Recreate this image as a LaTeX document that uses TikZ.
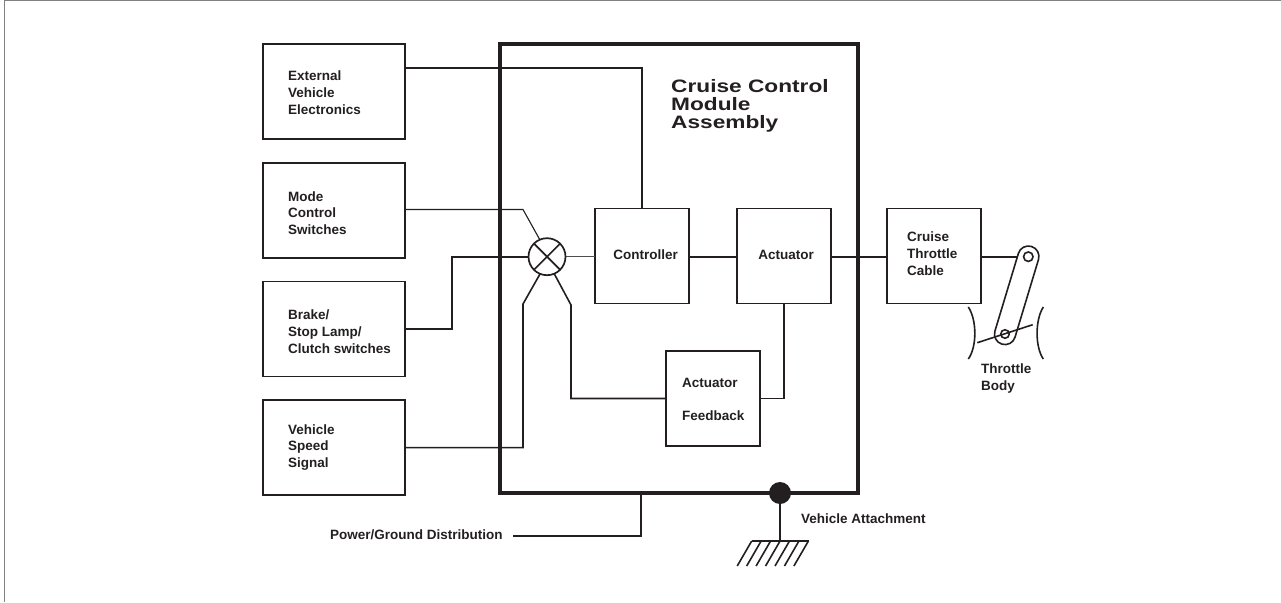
\documentclass[tikz,border=0pt]{standalone}
\usepackage{fontspec}
\setmainfont{Liberation Sans}
\newfontfamily\widefont[FakeStretch=1.26]{Liberation Sans}
\definecolor{ink}{HTML}{231F20}
\usetikzlibrary{positioning}
\begin{document}
\begin{tikzpicture}[
  x=1pt, y=-1pt,
  node distance=23.7pt and 48pt,
  color=ink,
  frm/.style={draw, line width=1.6pt, minimum width=142pt, minimum height=95pt, inner sep=0pt, outer sep=0pt},
  box/.style={draw, line width=1.6pt, minimum width=94pt, minimum height=95pt, inner sep=0pt, outer sep=0pt},
  lbl/.style={align=left, font=\fontsize{13.5}{16.7}\selectfont\bfseries, inner sep=0pt},
  wire/.style={line width=1.6pt},
  thin wire/.style={line width=1.1pt}
]
  \useasboundingbox (0,0) rectangle (1281,602);
  \draw[line width=1pt, gray] (4,602) -- (4,1) -- (1281,1);

  \node[draw, line width=4pt, minimum width=358pt, minimum height=448pt, inner sep=0pt, outer sep=0pt] (module) at (679,268.5) {};
  \node[frm] (ext) at (334,91.5) {};
  \node[frm, below=of ext] (mode) {};
  \node[frm, below=of mode] (brake) {};
  \node[frm, below=of brake] (speed) {};
  \node[box] (ctrl) at (642,256) {};
  \node[box, right=48pt of ctrl] (act) {};
  \node[box] (fback) at (713,398.5) {};
  \node[box, right=56pt of act] (cable) {};
  \node[draw, circle, line width=1.7pt, minimum size=37pt, inner sep=0pt, outer sep=0pt] (sum) at (547,256.7) {};
  \draw[line width=1.7pt] (sum.north west) -- (sum.south east) (sum.north east) -- (sum.south west);

  \node[lbl, anchor=west] (exttxt) at (288,92.5) {External\\Vehicle\\Electronics};
  \node[lbl, anchor=west] (modetxt) at (288,213) {Mode\\Control\\Switches};
  \node[lbl, anchor=west] (braketxt) at (288,331.5) {Brake/\\Stop Lamp/\\Clutch switches};
  \node[lbl, anchor=west] (speedtxt) at (288,447.5) {Vehicle\\Speed\\Signal};
  \node[lbl] (ctrltxt) at (645.6,255) {Controller};
  \node[lbl] (acttxt) at (786,255) {Actuator};
  \node[lbl, anchor=west] (fbacktxt) at (682,399.5) {Actuator\\[16pt]Feedback};
  \node[lbl, anchor=west] (cabletxt) at (907,253.5) {Cruise\\Throttle\\Cable};
  \node[lbl, anchor=west, font=\fontsize{18}{18}\selectfont\widefont\bfseries] (title) at (671,105.5) {Cruise Control\\Module\\Assembly};
  \node[lbl, anchor=west] (body) at (981,378.5) {Throttle\\Body};
  \node[lbl, anchor=west] (power) at (330,535) {Power/Ground Distribution};
  \node[lbl, anchor=west] (attach) at (801,519) {Vehicle Attachment};

  \draw[wire] (ext.east |- 0,68) -| (ctrl.north);
  \draw[thin wire] (mode.east |- 0,209.5) -- (523,209.5) -- (sum.113);
  \draw[wire] (brake.east) -- (452,328.9) |- (sum.west);
  \draw[wire] (speed.east) -- (523,447.6) -- (523,304) -- (sum.248);
  \draw[thin wire, ink!80] (sum.east) -- (ctrl.west |- sum.east);
  \draw[wire] (ctrl.east |- sum.east) -- (act.west |- sum.east);
  \draw[wire] (sum.293) -- (571,305) |- (fback.west);
  \draw[wire] (fback.east) -| (act.south);

  % throttle linkage
  \coordinate (pivtop) at (1028.3,256.7);
  \coordinate (pivbot) at (1005,334);
  \draw[wire] (act.east |- sum.east) -- (cable.west |- sum.east);
  \draw[wire] (cable.east |- pivtop) -- (pivtop);
  \node[draw, fill=white, line width=1.6pt, rotate=73.2, minimum width=102pt, minimum height=21pt, rounded corners=10.4pt, inner sep=0pt, outer sep=0pt] (lever) at (1016.7,295.3) {};
  \node[draw, fill=white, circle, line width=1.6pt, minimum size=9.5pt, inner sep=0pt] (holetop) at (pivtop) {};
  \node[draw, circle, line width=1.6pt, minimum size=8.5pt, inner sep=0pt] (holebot) at (pivbot) {};
  \draw[wire] (977.3,342.7) -- (1032.7,324.7);
  \draw[wire] (968.3,307) .. controls (977,320) and (977,347) .. (968.3,359);
  \draw[wire] (1043.3,307) .. controls (1035,320) and (1035,347) .. (1043.3,359);

  % power and ground
  \coordinate (pwrin) at (513,536);
  \coordinate (pwr) at (641,493);
  \draw[wire] (pwrin) -| (pwr);
  \node[fill=ink, circle, minimum size=22pt, inner sep=0pt] (dot) at (780,493) {};
  \coordinate (gnd) at (780,541);
  \draw[wire] (dot) -- (gnd);
  \draw[wire] (751.7,541) -- (808.5,541);
  \foreach \i in {0,...,6}
    \draw[wire] (751.7+9.45*\i,541) -- ++(-14.5,25);
\end{tikzpicture}
\end{document}
